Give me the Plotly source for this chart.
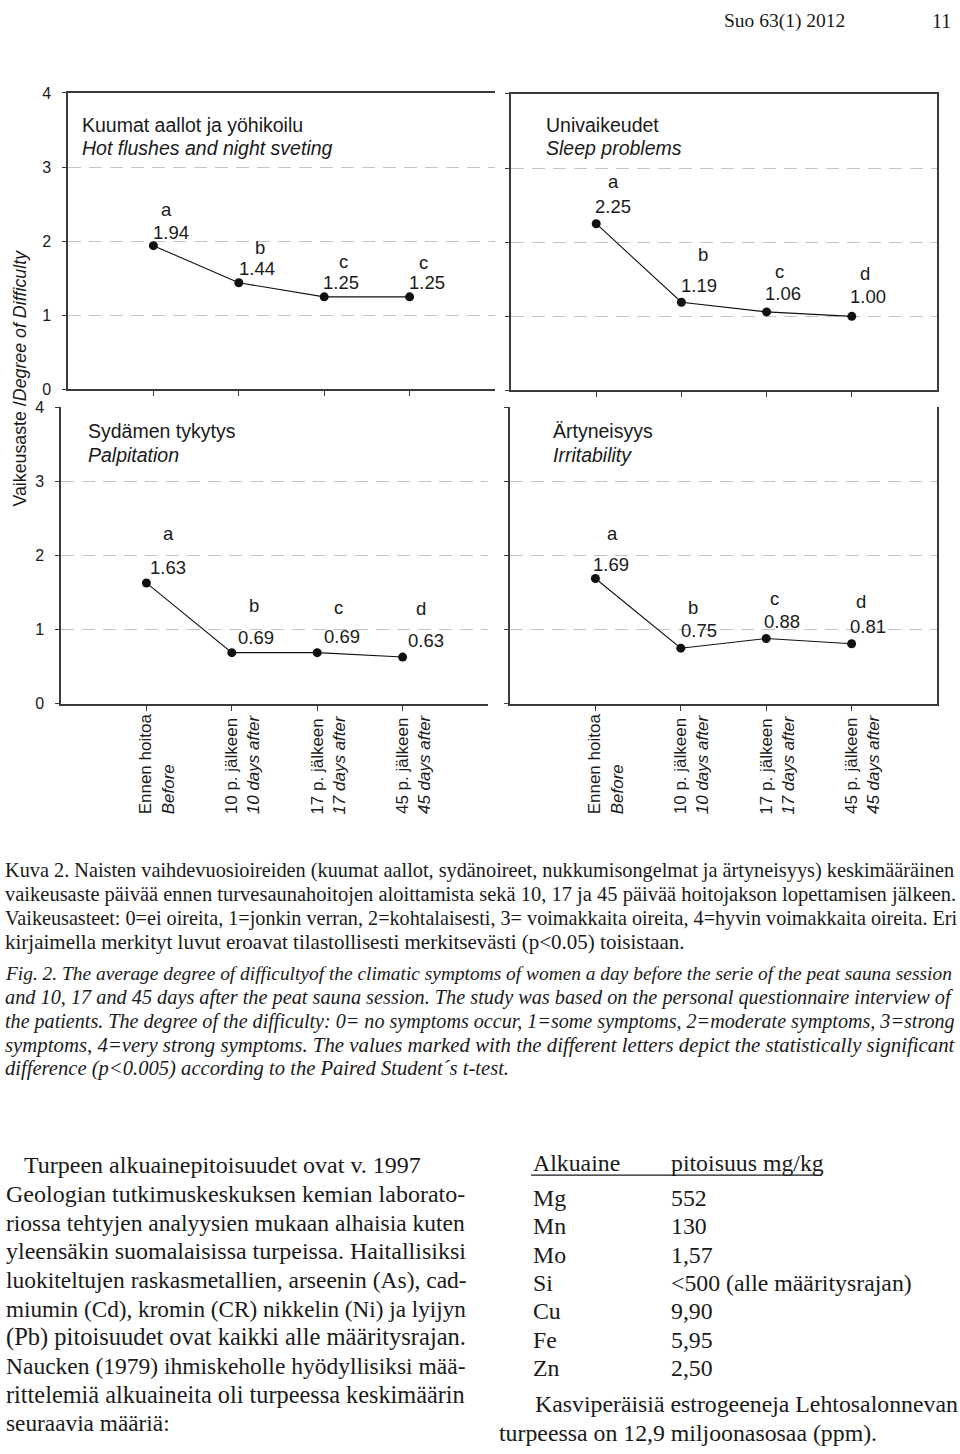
import plotly.graph_objects as go

# ---------------- data ----------------
categories_fi = ["Ennen hoitoa", "10 p. jälkeen", "17 p. jälkeen", "45 p. jälkeen"]
categories_en = ["Before", "10 days after", "17 days after", "45 days after"]
y_ticks = [0, 1, 2, 3, 4]

hot_flushes = [1.94, 1.44, 1.25, 1.25]
hot_letters = ["a", "b", "c", "c"]
sleep_problems = [2.25, 1.19, 1.06, 1.00]
sleep_letters = ["a", "b", "c", "d"]
palpitation = [1.63, 0.69, 0.69, 0.63]
palp_letters = ["a", "b", "c", "d"]
irritability = [1.69, 0.75, 0.88, 0.81]
irr_letters = ["a", "b", "c", "d"]

elements = ["Mg", "Mn", "Mo", "Si", "Cu", "Fe", "Zn"]
element_values = ["552", "130", "1,57", "&lt;500 (alle määritysrajan)", "9,90", "5,95", "2,50"]

caption_fi = [
    "Kuva 2. Naisten vaihdevuosioireiden (kuumat aallot, sydänoireet, nukkumisongelmat ja ärtyneisyys) keskimääräinen",
    "vaikeusaste päivää ennen turvesaunahoitojen aloittamista sekä 10, 17 ja 45 päivää hoitojakson lopettamisen jälkeen.",
    "Vaikeusasteet: 0=ei oireita, 1=jonkin verran, 2=kohtalaisesti, 3= voimakkaita oireita, 4=hyvin voimakkaita oireita. Eri",
    "kirjaimella merkityt luvut eroavat tilastollisesti merkitsevästi (p&lt;0.05) toisistaan.",
]
caption_en = [
    "Fig. 2. The average degree of difficultyof the climatic symptoms of women a day before the serie of the peat sauna session",
    "and 10, 17 and 45 days after the peat sauna session. The study was based on the personal questionnaire interview of",
    "the patients. The degree of the difficulty: 0= no symptoms occur, 1=some symptoms, 2=moderate symptoms, 3=strong",
    "symptoms, 4=very strong symptoms. The values marked with the different letters depict the statistically significant",
    "difference (p&lt;0.005) according to the Paired Student´s t-test.",
]
body_left = [
    "Turpeen alkuainepitoisuudet ovat v. 1997",
    "Geologian tutkimuskeskuksen kemian laborato-",
    "riossa tehtyjen analyysien mukaan alhaisia kuten",
    "yleensäkin suomalaisissa turpeissa. Haitallisiksi",
    "luokiteltujen raskasmetallien, arseenin (As), cad-",
    "miumin (Cd), kromin (CR) nikkelin (Ni) ja lyijyn",
    "(Pb) pitoisuudet ovat kaikki alle määritysrajan.",
    "Naucken (1979) ihmiskeholle hyödyllisiksi mää-",
    "rittelemiä alkuaineita oli turpeessa keskimäärin",
    "seuraavia määriä:",
]

# ---------------- layout helpers ----------------
W, H = 960, 1454


def px(x):
    return x / W


def py(y):
    return 1 - y / H


SANS = "Liberation Sans, Arial, sans-serif"
SERIF = "Liberation Serif, Times New Roman, serif"
AX = "#3a3a3a"
TXT = "#1a1a1a"

# per-line font sizes (emulating the justified page text)
cap_fi_sizes = [20.3, 20.5, 20.2, 21.0]
cap_en_sizes = [19.4, 20.3, 20.1, 20.8, 20.6]
body_left_sizes = [24.0, 24.0, 23.5, 24.0, 23.5, 23.2, 24.5, 23.5, 24.3, 23.3]
BODY = 23.8

# label offsets (pixels) for value labels and letter labels of each panel
hot_val_off = [(18, 13), (18, 14), (17, 14), (17, 14)]
hot_let_off = [(13, 36), (21, 35), (19, 35), (14, 34)]
sleep_val_off = [(17, 17), (18, 17), (16, 18), (16, 20)]
sleep_let_off = [(17, 42), (22, 48), (13, 40), (13, 43)]
palp_val_off = [(22, 15), (24, 15), (25, 16), (23, 17)]
palp_let_off = [(22, 49), (22, 47), (21, 45), (18, 49)]
irr_val_off = [(16, 14), (18, 18), (16, 17), (16, 17)]
irr_let_off = [(17, 45), (12, 41), (8, 40), (9, 42)]

panels = [
    dict(n="", vals=hot_flushes, letters=hot_letters, voff=hot_val_off, loff=hot_let_off,
         xd=(68, 495), yd=(86, 386), xmirror=True, ymirror=False, labels=True,
         t1="Kuumat aallot ja yöhikoilu", t2="Hot flushes and night sveting", tx=80, ty=118, cats=False),
    dict(n="2", vals=sleep_problems, letters=sleep_letters, voff=sleep_val_off, loff=sleep_let_off,
         xd=(511, 937), yd=(87, 387), xmirror=True, ymirror=True, labels=False,
         t1="Univaikeudet", t2="Sleep problems", tx=544, ty=118, cats=False),
    dict(n="3", vals=palpitation, letters=palp_letters, voff=palp_val_off, loff=palp_let_off,
         xd=(61, 488), yd=(404, 704), xmirror=False, ymirror=False, labels=True,
         t1="Sydämen tykytys", t2="Palpitation", tx=86, ty=428, cats=True),
    dict(n="4", vals=irritability, letters=irr_letters, voff=irr_val_off, loff=irr_let_off,
         xd=(510, 937), yd=(404, 704), xmirror=False, ymirror=True, labels=False,
         t1="Ärtyneisyys", t2="Irritability", tx=551, ty=428, cats=True),
]

fig = go.Figure()
annotations = []
layout_axes = {}

for p in panels:
    n = p["n"]
    xa, ya = "x" + n, "y" + n
    fig.add_trace(go.Scatter(
        x=categories_fi, y=p["vals"], xaxis=xa, yaxis=ya,
        mode="lines+markers", showlegend=False, hoverinfo="skip",
        line=dict(color="#111111", width=1.1),
        marker=dict(size=9, color="#111111"),
    ))
    layout_axes["xaxis" + n] = dict(
        domain=[px(p["xd"][0]), px(p["xd"][1])], anchor=ya, type="category",
        range=[-1, 4], tickvals=categories_fi, showticklabels=False,
        ticks="outside", ticklen=5, tickcolor=AX, tickwidth=1.2,
        showline=True, linecolor=AX, linewidth=1.5, mirror=p["xmirror"],
        showgrid=False, zeroline=False, fixedrange=True,
    )
    layout_axes["yaxis" + n] = dict(
        domain=[py(p["yd"][1]), py(p["yd"][0])], anchor=xa,
        range=[0, 4], tickvals=y_ticks, showticklabels=p["labels"],
        ticks="outside", ticklen=4, tickcolor=AX, tickwidth=1.2,
        ticklabelstandoff=8,
        tickfont=dict(family=SANS, size=16, color=TXT),
        showline=True, linecolor=AX, linewidth=1.5, mirror=p["ymirror"],
        showgrid=True, gridcolor="#c4c4c4", gridwidth=1.2, griddash="13px,8px",
        zeroline=False, fixedrange=True,
    )
    for i, v in enumerate(p["vals"]):
        dx, dy = p["voff"][i]
        annotations.append(dict(
            x=categories_fi[i], y=v, xref=xa, yref=ya, text=f"{v:.2f}",
            showarrow=False, xshift=dx, yshift=dy, xanchor="center", yanchor="middle",
            font=dict(family=SANS, size=18.5, color=TXT)))
        lx, ly = p["loff"][i]
        annotations.append(dict(
            x=categories_fi[i], y=v, xref=xa, yref=ya, text=p["letters"][i],
            showarrow=False, xshift=lx, yshift=ly, xanchor="center", yanchor="middle",
            font=dict(family=SANS, size=18.5, color=TXT)))
    annotations.append(dict(
        x=px(p["tx"]), y=py(p["ty"]), xref="paper", yref="paper", text=p["t1"],
        showarrow=False, xanchor="left", yanchor="middle",
        font=dict(family=SANS, size=19.5, color=TXT)))
    annotations.append(dict(
        x=px(p["tx"]), y=py(p["ty"] + 24), xref="paper", yref="paper", text=f"<i>{p['t2']}</i>",
        showarrow=False, xanchor="left", yanchor="middle",
        font=dict(family=SANS, size=19.5, color=TXT)))
    if p["cats"]:
        for i, c in enumerate(categories_fi):
            annotations.append(dict(
                x=c, y=py(818), xref=xa, yref="paper",
                text=f"{c}<br><i>{categories_en[i]}</i>", textangle=-90, align="left",
                showarrow=False, xanchor="center", yanchor="bottom", xshift=11,
                font=dict(family=SANS, size=17, color=TXT)))

# y-axis title
annotations.append(dict(
    x=px(20), y=py(375), xref="paper", yref="paper",
    text="Vaikeusaste /<i>Degree of Difficulty</i>", textangle=-90,
    showarrow=False, xanchor="center", yanchor="middle",
    font=dict(family=SANS, size=17.8, color=TXT)))

# page header
annotations.append(dict(x=px(722), y=py(13), xref="paper", yref="paper", text="Suo 63(1) 2012",
                        showarrow=False, xanchor="left", yanchor="middle",
                        font=dict(family=SERIF, size=19.5, color=TXT)))
annotations.append(dict(x=px(953), y=py(13), xref="paper", yref="paper", text="11",
                        showarrow=False, xanchor="right", yanchor="middle",
                        font=dict(family=SERIF, size=20, color=TXT)))

# caption
cap_y_fi = [873, 897, 921, 945]
cap_y_en = [977, 1001, 1025, 1049, 1073]
for line, yy, fs in zip(caption_fi, cap_y_fi, cap_fi_sizes):
    annotations.append(dict(x=px(3), y=py(yy), xref="paper", yref="paper", text=line,
                            showarrow=False, xanchor="left", yanchor="middle",
                            font=dict(family=SERIF, size=fs, color=TXT)))
for line, yy, fs in zip(caption_en, cap_y_en, cap_en_sizes):
    annotations.append(dict(x=px(3), y=py(yy), xref="paper", yref="paper", text=f"<i>{line}</i>",
                            showarrow=False, xanchor="left", yanchor="middle",
                            font=dict(family=SERIF, size=fs, color=TXT)))

# body text left column
for i, (line, fs) in enumerate(zip(body_left, body_left_sizes)):
    annotations.append(dict(x=px(22 if i == 0 else 4), y=py(1171 + 29 * i), xref="paper", yref="paper",
                            text=line, showarrow=False, xanchor="left", yanchor="middle",
                            font=dict(family=SERIF, size=fs, color=TXT)))

# right column table
annotations.append(dict(x=px(531), y=py(1169), xref="paper", yref="paper", text="Alkuaine",
                        showarrow=False, xanchor="left", yanchor="middle",
                        font=dict(family=SERIF, size=BODY, color=TXT)))
annotations.append(dict(x=px(669), y=py(1169), xref="paper", yref="paper", text="pitoisuus mg/kg",
                        showarrow=False, xanchor="left", yanchor="middle",
                        font=dict(family=SERIF, size=BODY, color=TXT)))
for i, (el, val) in enumerate(zip(elements, element_values)):
    yy = 1204 + 28.7 * i
    annotations.append(dict(x=px(531), y=py(yy), xref="paper", yref="paper", text=el,
                            showarrow=False, xanchor="left", yanchor="middle",
                            font=dict(family=SERIF, size=BODY, color=TXT)))
    annotations.append(dict(x=px(669), y=py(yy), xref="paper", yref="paper", text=val,
                            showarrow=False, xanchor="left", yanchor="middle",
                            font=dict(family=SERIF, size=BODY, color=TXT)))
annotations.append(dict(x=px(533), y=py(1413), xref="paper", yref="paper",
                        text="Kasviperäisiä estrogeeneja Lehtosalonnevan",
                        showarrow=False, xanchor="left", yanchor="middle",
                        font=dict(family=SERIF, size=BODY, color=TXT)))
annotations.append(dict(x=px(497), y=py(1442), xref="paper", yref="paper",
                        text="turpeessa on 12,9 miljoonasosaa (ppm).",
                        showarrow=False, xanchor="left", yanchor="middle",
                        font=dict(family=SERIF, size=BODY, color=TXT)))

shapes = [dict(type="line", xref="paper", yref="paper", x0=px(531), x1=px(822),
               y0=py(1181), y1=py(1181), line=dict(color=TXT, width=1.3))]

fig.update_layout(
    width=W, height=H, margin=dict(l=0, r=0, t=0, b=0),
    paper_bgcolor="white", plot_bgcolor="white",
    annotations=annotations, shapes=shapes, showlegend=False,
    **layout_axes,
)

fig.write_html(
    "out.html",
    config=dict(displayModeBar=False),
    post_script="document.body.style.margin='0';document.body.style.overflow='hidden';",
)
